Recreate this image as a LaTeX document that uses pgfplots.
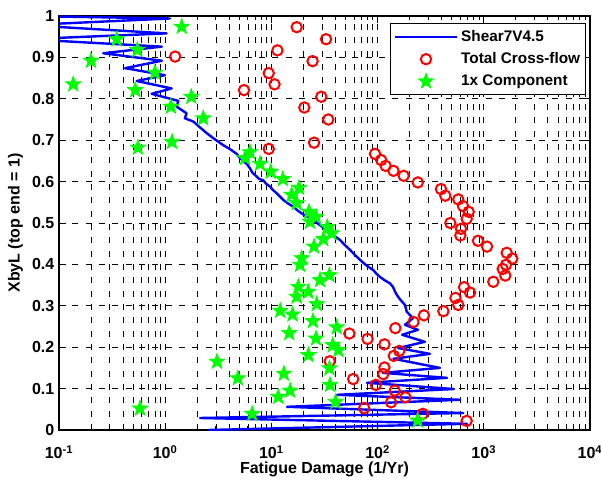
\documentclass[border=0pt]{standalone}
\usepackage{fontspec}
\setmainfont{Liberation Sans}
\usepackage{pgfplots}
\usepackage{pgfplotstable}
\pgfplotsset{compat=1.18}

\pgfdeclareplotmark{pstar}{%
  \pgfpathmoveto{\pgfpointpolar{90}{\pgfplotmarksize}}%
  \pgfpathlineto{\pgfpointpolar{126}{0.40\pgfplotmarksize}}%
  \pgfpathlineto{\pgfpointpolar{162}{\pgfplotmarksize}}%
  \pgfpathlineto{\pgfpointpolar{198}{0.40\pgfplotmarksize}}%
  \pgfpathlineto{\pgfpointpolar{234}{\pgfplotmarksize}}%
  \pgfpathlineto{\pgfpointpolar{270}{0.40\pgfplotmarksize}}%
  \pgfpathlineto{\pgfpointpolar{306}{\pgfplotmarksize}}%
  \pgfpathlineto{\pgfpointpolar{342}{0.40\pgfplotmarksize}}%
  \pgfpathlineto{\pgfpointpolar{18}{\pgfplotmarksize}}%
  \pgfpathlineto{\pgfpointpolar{54}{0.40\pgfplotmarksize}}%
  \pgfpathclose
  \pgfusepathqfillstroke
}

\pgfplotsset{
  linelegend/.style={legend image code/.code={\draw[##1] (0bp,0bp) -- (47bp,0bp);}},
  marklegend/.style={legend image code/.code={\draw[##1] plot coordinates {(23.5bp,0bp)};}},
}

\pgfplotstableread{
x y
0.05 1.0
1.11 0.994
0.05 0.978
1.03 0.958
0.05 0.944
0.93 0.926
0.261 0.910
0.93 0.892
0.418 0.874
0.995 0.857
0.539 0.843
1.15 0.825
0.746 0.812
1.33 0.795
1.28 0.781
1.59 0.765
1.53 0.753
1.84 0.745
2.1 0.732
2.46 0.717
2.9 0.703
3.52 0.688
4.1 0.678
4.71 0.667
5.06 0.657
5.41 0.650
5.9 0.642
6.28 0.632
6.6 0.622
7.28 0.612
7.6 0.607
8.40 0.603
8.9 0.595
9.71 0.588
10.3 0.580
11.2 0.572
11.8 0.566
12.9 0.556
14.2 0.548
16.1 0.539
17.5 0.531
19.3 0.523
21.5 0.516
24.8 0.507
28.5 0.495
33.2 0.483
38 0.471
44.3 0.459
49 0.447
55.0 0.435
61 0.423
68.3 0.411
78 0.398
91.2 0.386
97 0.378
105 0.370
116 0.362
131 0.354
140 0.345
146 0.334
152 0.326
162 0.316
181 0.302
188 0.286
215 0.270
181 0.254
240 0.242
170 0.230
279 0.213
156 0.198
311 0.184
141 0.172
387 0.150
112 0.138
450 0.126
79.4 0.114
524 0.099
41.5 0.085
597 0.073
14.0 0.056
641 0.041
2.13 0.029
695 0.015
2.55 0.0
}\shear

\pgfplotstableread{
x y
17.3 0.973
32.7 0.944
11.4 0.917
24.4 0.891
1.24 0.902
9.44 0.862
10.7 0.835
5.52 0.821
29.5 0.805
20.4 0.779
34.3 0.750
25.2 0.694
9.44 0.679
94.5 0.667
108 0.652
119 0.638
141 0.626
176 0.614
239 0.598
395 0.582
434 0.566
575 0.557
637 0.541
721 0.527
690 0.510
484 0.500
610 0.486
601 0.470
881 0.457
1072 0.443
1643 0.428
1855 0.414
1618 0.399
1506 0.389
1594 0.373
1228 0.358
651 0.345
741 0.332
541 0.319
575 0.302
416 0.287
273 0.277
218 0.261
147 0.246
54.2 0.233
80.4 0.220
116 0.207
160 0.191
142 0.179
35.4 0.166
116 0.151
113 0.135
58.9 0.123
96.2 0.109
145 0.095
183 0.079
134 0.067
74.8 0.053
266 0.039
690 0.022
}\total

\pgfplotstableread{
x y
1.43 0.974
0.349 0.944
0.546 0.918
0.200 0.892
0.801 0.863
0.136 0.835
0.522 0.821
1.76 0.805
1.13 0.781
2.28 0.753
1.16 0.696
0.554 0.682
5.64 0.657
6.29 0.671
7.81 0.643
9.85 0.624
12.8 0.606
18.2 0.585
15.5 0.568
17.3 0.548
22.6 0.527
26.3 0.515
23.1 0.503
33.6 0.490
37.0 0.475
30.8 0.461
25.2 0.443
19.3 0.415
18.6 0.399
35.1 0.374
28.7 0.362
17.9 0.346
22.2 0.334
17.3 0.322
26.7 0.304
12.1 0.288
15.8 0.279
24.6 0.263
41.2 0.248
14.7 0.234
26.3 0.221
37.8 0.205
42.7 0.193
22.3 0.181
35.2 0.149
3.07 0.165
4.83 0.125
13.1 0.136
35.6 0.109
15.0 0.095
11.6 0.080
40.2 0.068
6.59 0.039
238 0.023
0.579 0.052
}\comp

\begin{document}
\begin{tikzpicture}
\begin{axis}[
  scale only axis, width=398.25bp, height=310.5bp,
  xmode=log, log basis x=10,
  xmin=0.1, xmax=10000, ymin=0, ymax=1,
  xtick={0.1,1,10,100,1000,10000},
  minor xtick={0.2,0.3,0.4,0.5,0.6,0.7,0.8,0.9,2,3,4,5,6,7,8,9,20,30,40,50,60,70,80,90,200,300,400,500,600,700,800,900,2000,3000,4000,5000,6000,7000,8000,9000},
  xticklabels={10\textsuperscript{-1},10\textsuperscript{0},10\textsuperscript{1},10\textsuperscript{2},10\textsuperscript{3},10\textsuperscript{4}},
  ytick={0,0.1,0.2,0.3,0.4,0.5,0.6,0.7,0.8,0.9,1},
  yticklabels={0,0.1,0.2,0.3,0.4,0.5,0.6,0.7,0.8,0.9,1},
  grid=both,
  major grid style={black, line width=0.5bp, dash pattern=on 4.5bp off 5.5bp},
  minor grid style={black, line width=0.5bp, dash pattern=on 4.5bp off 5.5bp},
  tick align=inside,
  axis line style={line width=0.8bp},
  every tick/.style={black, line width=0.6bp},
  major tick length=5bp, minor tick length=3bp,
  tick label style={font=\fontsize{12bp}{14bp}\selectfont\bfseries},
  xticklabel style={yshift=-8bp},
  label style={font=\fontsize{12bp}{14bp}\selectfont\bfseries},
  xlabel style={yshift=5bp},
  xlabel={Fatigue Damage (1/Yr)},
  ylabel={XbyL (top end = 1)},
  legend cell align=left,
  legend style={at={(0.9925,0.983)}, anchor=north east, draw=black, line width=0.8bp, fill=white,
    font=\fontsize{11.5bp}{13bp}\selectfont\bfseries, row sep=3bp, inner xsep=2bp, inner ysep=3bp},
]
\addplot[blue, line width=1.8bp, line join=round, mark=none, linelegend] table {\shear};
\addlegendentry{Shear7V4.5}
\addplot[only marks, mark=o, red, mark size=3.9bp, line width=1.5bp, marklegend] table {\total};
\addlegendentry{Total Cross-flow}
\addplot[only marks, mark=pstar, green, mark size=6bp, line width=0.6bp, fill=green, marklegend] table {\comp};
\addlegendentry{1x Component}
\coordinate (ll) at (rel axis cs:0,0);
\coordinate (ur) at (rel axis cs:1,1);
\end{axis}
\pgfresetboundingbox
\path[use as bounding box] ([xshift=-44.25bp,yshift=-39.75bp]ll) rectangle ([xshift=8.25bp,yshift=12bp]ur);
\end{tikzpicture}
\end{document}
